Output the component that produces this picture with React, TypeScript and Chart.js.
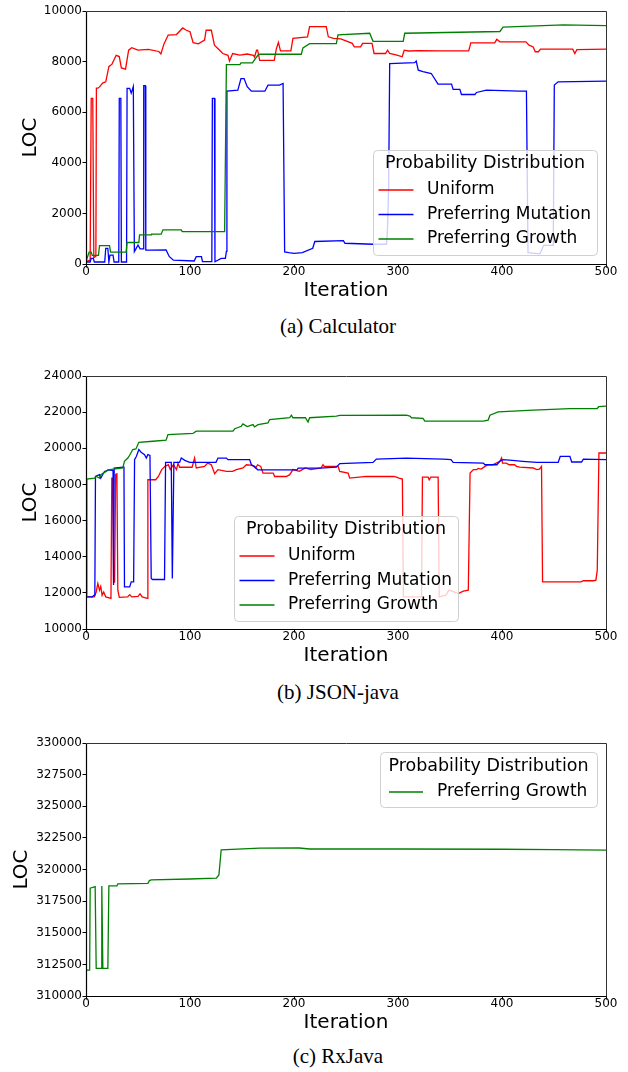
import React, { useEffect, useRef } from 'react';
import { Chart, registerables } from 'chart.js';

Chart.register(...registerables);

// ---------- labels ----------
const seriesLabels = ['Uniform', 'Preferring Mutation', 'Preferring Growth'];
const seriesColors = ['#ff0000', '#0000ff', '#008000'];
const legendTitle = 'Probability Distribution';
const xAxisTitle = 'Iteration';
const yAxisTitle = 'LOC';
const captions = ['(a) Calculator', '(b) JSON-java', '(c) RxJava'];

// ---------- ticks ----------
const iterationTicks = [0, 100, 200, 300, 400, 500];
const calcTicks = [0, 2000, 4000, 6000, 8000, 10000];
const jsonTicks = [10000, 12000, 14000, 16000, 18000, 20000, 22000, 24000];
const rxTicks = [310000, 312500, 315000, 317500, 320000, 322500, 325000, 327500, 330000];

// ---------- data: [iteration, LOC] ----------
const calcUniform = [
  [0, 100], [4, 150], [5, 6550], [6.5, 6550], [7.5, 250], [9.5, 300], [10, 6950], [11.5, 6950], [13, 7000],
  [16, 7150], [19, 7200], [22, 7800], [25, 7900], [29, 8250], [32, 8200], [34, 7750], [38, 7700], [41, 8450],
  [44, 8550], [50, 8450], [60, 8480], [70, 8400], [72, 8300], [75, 8700], [79, 9050], [87, 9070], [93, 9330],
  [96, 9250], [100, 9180], [103, 8750], [108, 8700], [114, 8850], [115.5, 9240], [120.5, 9240], [123.5, 8650],
  [128.5, 8450], [131.5, 8320], [136.5, 8250], [138, 8020], [141, 8320], [148, 8260], [155, 8300], [161, 8250],
  [162, 8180], [164, 8450], [165, 8450], [167, 8050], [181, 8050], [183, 8500], [185, 8760], [187, 8420],
  [197, 8420], [199, 8920], [213, 8980], [215, 9380], [231, 9380], [233, 8980], [238, 8920], [245, 8900],
  [256, 8720], [258, 8580], [264, 8580], [266, 8720], [275, 8720], [277, 8320], [288, 8320], [290, 8450],
  [292, 8320], [299, 8260], [304, 8190], [306, 8450], [310, 8420], [320, 8430], [340, 8420], [368, 8420],
  [370, 8740], [393, 8740], [395, 8880], [398, 8780], [423, 8780], [426, 8650], [430, 8580], [432, 8390],
  [435, 8390], [437, 8490], [468, 8490], [470, 8320], [472, 8470], [500, 8490],
];
const calcMutation = [
  [0, 80], [4, 80], [5, 220], [7, 220], [8, 80], [18, 80], [19, 620], [21, 620], [22, 80], [23, 350], [26, 350],
  [27, 80], [31.5, 80], [32, 6550], [33.5, 6550], [34, 80], [39, 80], [39.5, 6940], [42, 6940], [43.5, 6750],
  [45.5, 7010], [46.5, 490], [48, 600], [50, 750], [52, 600], [55, 600], [55.5, 7050], [57, 7050], [57.5, 550],
  [62, 550], [77, 555], [80, 300], [84, 150], [104, 120], [106, 290], [111, 290], [112, 90], [121, 90],
  [121.5, 6550], [123.5, 6550], [124, 90], [130, 220], [134, 220], [135, 500], [135.5, 6830], [146, 6870],
  [149, 7330], [152, 7330], [155, 7010], [159, 6830], [172, 6830], [175, 7070], [186, 7070], [189.5, 7135],
  [191, 480], [195, 450], [200, 420], [208, 450], [218, 620], [220, 890], [247.5, 920], [249, 820], [276, 780],
  [289, 780], [290, 1500], [291, 3000], [292, 7920], [316, 7960], [317.5, 8020], [319.5, 7660], [324, 7600],
  [332, 7530], [338.5, 7110], [351.5, 7110], [353, 6900], [359.5, 6900], [361, 6700], [374, 6700],
  [375.5, 6780], [385, 6870], [417, 6830], [423.5, 6830], [425, 450], [436.5, 400], [440, 740], [449.3, 740],
  [450.3, 7070], [454, 7200], [500, 7230],
];
const calcGrowth = [
  [0, 100], [3, 470], [5, 470], [6, 340], [12, 340], [13, 730], [22.6, 730], [23.6, 470], [38.6, 470],
  [39.5, 850], [50.8, 850], [51.5, 1150], [62.7, 1150], [63, 1180], [72.3, 1180], [74, 1350], [91.6, 1350],
  [92.5, 1280], [133.3, 1280], [135, 7880], [148, 7880], [149, 7950], [160, 7950], [165, 8240], [167, 8290],
  [207, 8290], [208.6, 8540], [215, 8710], [240.7, 8710], [242.3, 9060], [272.8, 9120], [276, 8800],
  [305, 8800], [306.5, 9120], [398, 9190], [401, 9360], [459, 9450], [500, 9420],
];

const jsonUniform = [
  [0, 11780], [8, 11780], [9.8, 12050], [11.4, 12520], [13, 12150], [14.2, 12350], [15.5, 11870], [17, 12050],
  [19, 11780], [24, 11700], [24.8, 18350], [25.8, 18350], [26.5, 12600], [27.5, 12600], [28.5, 18550],
  [29.7, 18590], [30.6, 12150], [32, 11750], [40, 11780], [42, 11900], [44, 11780], [50, 11800], [52, 11950],
  [54, 11780], [59, 11700], [59.5, 18260], [67, 18260], [69.6, 18440], [72.8, 18820], [76, 19000],
  [79.2, 19090], [81, 18820], [84, 19090], [87, 18820], [88.5, 19180], [90, 18950], [102, 18950],
  [104.4, 19460], [106, 18910], [114, 19000], [117, 19180], [120.5, 19090], [123.7, 18590], [126.9, 18820],
  [135, 18720], [141, 18720], [144.6, 18820], [151, 18910], [154.2, 19090], [160, 19050], [163, 18910],
  [165, 19090], [168, 19000], [170.2, 18630], [180, 18630], [181.4, 18440], [192.6, 18440], [195.9, 18540],
  [199, 18820], [205, 18720], [208, 18820], [211, 18910], [216, 18820], [226, 18910], [227.9, 19090],
  [229, 19000], [242.4, 19000], [244, 18720], [252, 18630], [253.6, 18350], [269.7, 18440], [296, 18440],
  [298.5, 18400], [301, 18350], [304.2, 18300], [305.2, 11780], [322.6, 11780], [323.5, 18400], [329, 18400],
  [330, 18260], [331.5, 18400], [338.6, 18400], [339.6, 11780], [346, 11870], [349, 12150], [354, 12050],
  [358, 11960], [362.8, 12100], [367.6, 12150], [369.3, 18630], [372.5, 18820], [375.7, 18820], [377, 18890],
  [380, 18850], [383.6, 19000], [386.7, 19090], [391, 19090], [397.9, 19280], [399.6, 19460], [400.5, 19180],
  [404, 19180], [407, 19090], [412, 19090], [414, 19000], [417, 18960], [430, 18910], [433.3, 18820],
  [436, 18850], [438, 19000], [439, 12610], [476, 12610], [478.2, 12670], [488, 12670], [490.3, 12700],
  [491.6, 13260], [493.2, 19740], [500, 19740],
];
const jsonMutation = [
  [0, 11780], [6, 11780], [8, 11870], [8.5, 11960], [9.1, 18440], [13, 18540], [14.2, 18350], [15.5, 18480],
  [17.8, 18720], [22.6, 18810], [26, 18760], [26.5, 12430], [27.1, 18910], [35.4, 18950], [36.5, 18950],
  [37, 12330], [42, 12330], [43.5, 12610], [45.8, 12610], [46.7, 19370], [48.5, 19560], [50.8, 19930],
  [53, 19780], [56.3, 19650], [58, 19460], [59.5, 19650], [61.5, 19600], [62.7, 12800], [64, 12740],
  [75.5, 12740], [76.5, 19220], [82, 19220], [83, 12800], [84.5, 19220], [90, 19220], [91.6, 19460],
  [95, 19330], [99.6, 19220], [125, 19220], [126.9, 19460], [135, 19460], [136.5, 19370], [157.4, 19370],
  [159, 19090], [162, 19000], [165, 18810], [203, 18810], [204, 18900], [225, 18900], [240.8, 18960],
  [244, 19150], [276, 19220], [279.2, 19400], [308, 19460], [343.4, 19400], [351, 19370], [353, 19220],
  [382, 19180], [383.6, 19090], [395, 19090], [398, 19280], [401, 19370], [410, 19330], [420, 19280],
  [433.3, 19220], [454, 19220], [456, 19550], [465.3, 19550], [467, 19240], [476.5, 19240], [478.2, 19400],
  [500, 19370],
];
const jsonGrowth = [
  [0, 11780], [0.8, 18300], [8.2, 18350], [10, 18440], [13, 18350], [14.2, 18540], [19.4, 18720], [21, 18810],
  [35.4, 18910], [37, 19280], [40.2, 19460], [41.8, 19600], [45, 19930], [48, 19960], [50.8, 20330],
  [64.3, 20390], [77, 20450], [78.8, 20760], [102.8, 20820], [106, 20950], [141.3, 20950], [143, 21080],
  [149.3, 21220], [150.9, 21350], [155, 21200], [160.6, 21310], [162, 21180], [165.4, 21310], [175, 21410],
  [176.6, 21590], [195.9, 21690], [197.5, 21830], [199, 21690], [211, 21690], [213.5, 21450], [215, 21690],
  [240.8, 21780], [244, 21820], [308, 21830], [311.4, 21780], [313, 21690], [324, 21650], [325.8, 21500],
  [382, 21500], [386.7, 21560], [388.4, 21830], [396.3, 22020], [430, 22110], [465.3, 22190], [491.5, 22200],
  [493, 22300], [500, 22330],
];

const rxGrowth = [
  [0, 312050], [3.5, 312050], [4, 318520], [8.8, 318650], [9.8, 312190], [14.6, 312190], [15.2, 318700],
  [16.2, 312190], [21, 312190], [22, 318700], [29.7, 318700], [30.6, 318860], [59.5, 318910], [61, 319120],
  [62.7, 319180], [99.6, 319250], [125.3, 319310], [127.8, 319570], [130, 321560], [167, 321690],
  [205, 321700], [215, 321620], [300, 321620], [400, 321600], [450, 321570], [500, 321530],
];

// ---------- component ----------
type LegendCfg = {
  x: number; y: number; w: number; h: number;
  titleDy: number; itemDy: number[]; hx0: number; hx1: number; tx: number;
};
type PanelProps = {
  top: number;
  series: { label: string; color: string; points: number[][] }[];
  yTicks: number[];
  yTitlePad: number;
  legend: LegendCfg;
};

const FONT = 'DejaVu Sans';

function Panel({ top, series, yTicks, yTitlePad, legend }: PanelProps) {
  const ref = useRef<HTMLCanvasElement | null>(null);
  useEffect(() => {
    const colors = series.map((s) => s.color);
    const labels = series.map((s) => s.label);
    const decor = {
      id: 'decor',
      afterDraw(chart: any) {
        const { ctx, chartArea: a } = chart;
        ctx.save();
        const L = Math.round(a.left) + 0.5;
        const R = Math.round(a.right) + 0.5;
        const T = Math.round(a.top) + 0.5;
        const B = Math.round(a.bottom) + 0.5;
        ctx.lineWidth = 1;
        ctx.strokeStyle = '#333';
        ctx.beginPath();
        ctx.moveTo(L, T); ctx.lineTo(R, T); ctx.lineTo(R, B);
        ctx.stroke();
        ctx.strokeStyle = '#000';
        ctx.lineWidth = 1.2;
        ctx.beginPath();
        ctx.moveTo(L, T); ctx.lineTo(L, B); ctx.lineTo(R, B);
        ctx.stroke();

        // legend
        const g = legend;
        const r = 4;
        const x = g.x + 0.5, y = g.y + 0.5, w = g.w, h = g.h;
        ctx.beginPath();
        ctx.moveTo(x + r, y);
        ctx.lineTo(x + w - r, y);
        ctx.arcTo(x + w, y, x + w, y + r, r);
        ctx.lineTo(x + w, y + h - r);
        ctx.arcTo(x + w, y + h, x + w - r, y + h, r);
        ctx.lineTo(x + r, y + h);
        ctx.arcTo(x, y + h, x, y + h - r, r);
        ctx.lineTo(x, y + r);
        ctx.arcTo(x, y, x + r, y, r);
        ctx.closePath();
        ctx.fillStyle = 'rgba(255,255,255,0.8)';
        ctx.fill();
        ctx.strokeStyle = '#d0d0d0';
        ctx.lineWidth = 1;
        ctx.stroke();

        ctx.textBaseline = 'middle';
        ctx.fillStyle = '#000';
        ctx.textAlign = 'center';
        ctx.font = `17.5px "${FONT}"`;
        ctx.fillText(legendTitle, g.x + g.w / 2, g.y + g.titleDy);
        ctx.font = `17px "${FONT}"`;
        ctx.textAlign = 'left';
        for (let i = 0; i < labels.length; i++) {
          const yy = g.y + g.itemDy[i];
          ctx.beginPath();
          ctx.strokeStyle = colors[i];
          ctx.lineWidth = 1.5;
          ctx.moveTo(g.x + g.hx0, yy);
          ctx.lineTo(g.x + g.hx1, yy);
          ctx.stroke();
          ctx.fillStyle = '#000';
          ctx.fillText(labels[i], g.x + g.tx, yy);
        }
        ctx.restore();
      },
    };

    const n = series.length;
    const chart = new Chart(ref.current as HTMLCanvasElement, {
      type: 'line',
      data: {
        datasets: series.map((s, i) => ({
          label: s.label,
          data: s.points.map(([x, y]) => ({ x, y })),
          borderColor: s.color,
          backgroundColor: s.color,
          borderWidth: 1.3,
          pointRadius: 0,
          pointHoverRadius: 0,
          tension: 0,
          fill: false,
          order: n - i,
        })),
      },
      options: {
        animation: false,
        responsive: false,
        devicePixelRatio: 1,
        events: [],
        layout: { padding: { top: 11, right: 22, bottom: 0, left: 0 } },
        plugins: { legend: { display: false }, tooltip: { enabled: false } },
        scales: {
          x: {
            type: 'linear',
            min: 0,
            max: 500,
            afterFit: (s: any) => { s.height = 41; },
            afterBuildTicks: (s: any) => { s.ticks = iterationTicks.map((v) => ({ value: v })); },
            grid: { drawOnChartArea: false, drawTicks: true, tickLength: 3.5, color: '#000', lineWidth: 1 },
            border: { display: false },
            ticks: {
              color: '#000',
              font: { size: 12, family: FONT, lineHeight: 1.2 },
              padding: -3,
              maxRotation: 0,
              autoSkip: false,
              callback: (v: any) => String(v),
            },
            title: {
              display: true,
              text: xAxisTitle,
              color: '#000',
              font: { size: 20, family: FONT, lineHeight: 1.2 },
              padding: { top: 0, bottom: 2 },
            },
          },
          y: {
            type: 'linear',
            min: yTicks[0],
            max: yTicks[yTicks.length - 1],
            afterFit: (s: any) => { s.width = 86; },
            afterBuildTicks: (s: any) => { s.ticks = yTicks.map((v) => ({ value: v })); },
            grid: { drawOnChartArea: false, drawTicks: true, tickLength: 3.5, color: '#000', lineWidth: 1 },
            border: { display: false },
            ticks: {
              color: '#000',
              font: { size: 12, family: FONT },
              padding: 0.5,
              autoSkip: false,
              callback: (v: any) => String(v),
            },
            title: {
              display: true,
              text: yAxisTitle,
              color: '#000',
              font: { size: 20, family: FONT, lineHeight: 1.2 },
              padding: { top: yTitlePad, bottom: 0 },
            },
          },
        },
      },
      plugins: [decor],
    } as any);
    return () => chart.destroy();
  }, []);
  return (
    <canvas
      ref={ref}
      width={628}
      height={305}
      style={{ position: 'absolute', left: 0, top, width: 628, height: 305 }}
    />
  );
}

const legendBig = { w: 224, h: 105, titleDy: 13.5, itemDy: [40, 64.5, 89], hx0: 5.5, hx1: 40.5, tx: 54 };

const panels: PanelProps[] = [
  {
    top: 0,
    series: [
      { label: seriesLabels[0], color: seriesColors[0], points: calcUniform },
      { label: seriesLabels[1], color: seriesColors[1], points: calcMutation },
      { label: seriesLabels[2], color: seriesColors[2], points: calcGrowth },
    ],
    yTicks: calcTicks,
    yTitlePad: 18.5,
    legend: { x: 373, y: 150, ...legendBig },
  },
  {
    top: 365,
    series: [
      { label: seriesLabels[0], color: seriesColors[0], points: jsonUniform },
      { label: seriesLabels[1], color: seriesColors[1], points: jsonMutation },
      { label: seriesLabels[2], color: seriesColors[2], points: jsonGrowth },
    ],
    yTicks: jsonTicks,
    yTitlePad: 18.5,
    legend: { x: 234, y: 151, ...legendBig },
  },
  {
    top: 732,
    series: [{ label: seriesLabels[2], color: seriesColors[2], points: rxGrowth }],
    yTicks: rxTicks,
    yTitlePad: 10,
    legend: { x: 380, y: 20, w: 217, h: 55, titleDy: 14, itemDy: [40], hx0: 9, hx1: 43, tx: 57 },
  },
];

const captionTops = [316, 682, 1046];

export default function App() {
  return (
    <div style={{ position: 'absolute', left: 0, top: 0, width: 628, height: 1072, background: '#fff', overflow: 'hidden' }}>
      {panels.map((p, i) => (
        <Panel key={i} {...p} />
      ))}
      {captions.map((c, i) => (
        <div
          key={c}
          style={{
            position: 'absolute',
            left: 188,
            width: 300,
            top: captionTops[i],
            textAlign: 'center',
            fontFamily: '"Liberation Serif", serif',
            fontSize: 21,
            lineHeight: '21px',
            color: '#000',
            whiteSpace: 'nowrap',
          }}
        >
          {c}
        </div>
      ))}
    </div>
  );
}
